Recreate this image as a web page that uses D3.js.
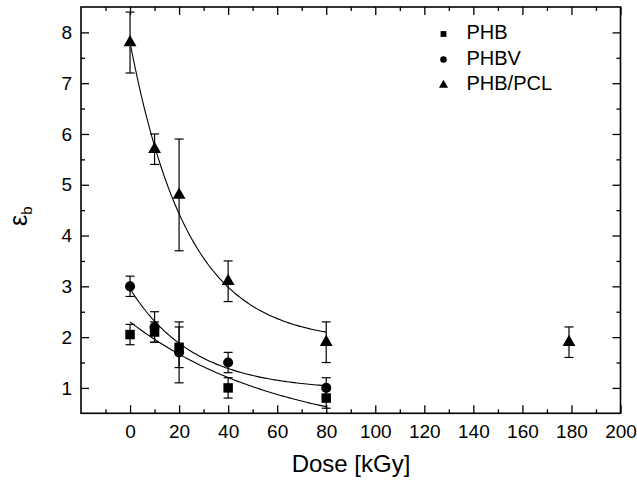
<!DOCTYPE html>
<html><head><meta charset="utf-8">
<script src="https://cdn.jsdelivr.net/npm/d3@7"></script>
<style>body{margin:0;background:#fff}svg{display:block}text{font-family:"Liberation Sans",Arial,sans-serif;fill:#000}</style>
</head><body><svg id="c" width="637" height="480"></svg>
<script>
const doses = [0, 10, 20, 40, 80];
const phb = [2.05, 2.1, 1.8, 1.0, 0.8];
const phbErr = [0.2, 0.2, 0.4, 0.2, 0.2];
const phbv = [3.0, 2.2, 1.7, 1.5, 1.0];
const phbvErr = [0.2, 0.3, 0.6, 0.2, 0.2];
const pcl = [7.8, 5.7, 4.8, 3.1, 1.9, 1.9];
const pclErr = [0.6, 0.3, 1.1, 0.4, 0.4, 0.3];
const pclDoses = [0, 10, 20, 40, 80, 179];
const seriesNames = ["PHB", "PHBV", "PHB/PCL"];
// exponential decay fits y = y0 + A*exp(-x/t), over 0..80 kGy
const fitPHB = [0.0, 2.3, 61.8];
const fitPHBV = [0.95, 2.0, 26.1];
const fitPCL = [1.9, 5.9, 23.6];
const xTicks = [0, 20, 40, 60, 80, 100, 120, 140, 160, 180, 200];
const yTicks = [1, 2, 3, 4, 5, 6, 7, 8];

const svg = d3.select("#c");
const L = 81, R = 620.5, T = 7, B = 413.3;
const x = d3.scaleLinear().domain([-20, 200]).range([L, R]);
const y = d3.scaleLinear().domain([0.5, 8.5]).range([B, T]);

const g = svg.append("g");
const minorX = d3.range(-10, 200, 10).filter(v => v % 20 !== 0);
const minorY = d3.range(1.5, 8.5, 1);
// bottom
g.append("g").attr("transform", `translate(0,${B})`)
  .call(d3.axisBottom(x).tickValues(xTicks).tickSizeInner(-8).tickSizeOuter(0).tickPadding(11).tickFormat(d3.format("d")))
  .call(a => a.selectAll("text").attr("font-size", 19).attr("dy", "0.71em"));
g.append("g").attr("transform", `translate(0,${B})`)
  .call(d3.axisBottom(x).tickValues(minorX).tickSizeInner(-4).tickSizeOuter(0).tickFormat(""));
// top
g.append("g").attr("transform", `translate(0,${T})`)
  .call(d3.axisTop(x).tickValues(xTicks).tickSizeInner(-8).tickSizeOuter(0).tickFormat(""));
g.append("g").attr("transform", `translate(0,${T})`)
  .call(d3.axisTop(x).tickValues(minorX).tickSizeInner(-4).tickSizeOuter(0).tickFormat(""));
// left
g.append("g").attr("transform", `translate(${L},0)`)
  .call(d3.axisLeft(y).tickValues(yTicks).tickSizeInner(-8).tickSizeOuter(0).tickPadding(9).tickFormat(d3.format("d")))
  .call(a => a.selectAll("text").attr("font-size", 19));
g.append("g").attr("transform", `translate(${L},0)`)
  .call(d3.axisLeft(y).tickValues(minorY).tickSizeInner(-4).tickSizeOuter(0).tickFormat(""));
// right
g.append("g").attr("transform", `translate(${R},0)`)
  .call(d3.axisRight(y).tickValues(yTicks).tickSizeInner(-8).tickSizeOuter(0).tickFormat(""));
g.append("g").attr("transform", `translate(${R},0)`)
  .call(d3.axisRight(y).tickValues(minorY).tickSizeInner(-4).tickSizeOuter(0).tickFormat(""));
g.selectAll(".domain").remove();
g.selectAll(".tick line").attr("stroke", "#000").attr("stroke-width", 1.3);
g.append("rect").attr("x", L).attr("y", T).attr("width", R - L).attr("height", B - T)
  .attr("fill", "none").attr("stroke", "#000").attr("stroke-width", 1.6);

// fit curves
function fitLine(p) {
  const xs = d3.range(0, 80.01, 1);
  const line = d3.line().x(d => x(d)).y(d => y(p[0] + p[1] * Math.exp(-d / p[2])));
  svg.append("path").attr("d", line(xs)).attr("fill", "none").attr("stroke", "#000").attr("stroke-width", 1.1);
}
[fitPHB, fitPHBV, fitPCL].forEach(fitLine);

// error bars & markers
function drawSeries(xs, ys, es, sym, size) {
  const eg = svg.append("g").attr("stroke", "#000").attr("stroke-width", 1.2);
  xs.forEach((d, i) => {
    const cx = x(d), y1 = y(ys[i] - es[i]), y2 = y(ys[i] + es[i]);
    eg.append("line").attr("x1", cx).attr("x2", cx).attr("y1", y1).attr("y2", y2);
    eg.append("line").attr("x1", cx - 4.5).attr("x2", cx + 4.5).attr("y1", y1).attr("y2", y1);
    eg.append("line").attr("x1", cx - 4.5).attr("x2", cx + 4.5).attr("y1", y2).attr("y2", y2);
  });
  svg.append("g").selectAll("path").data(xs).join("path")
    .attr("transform", (d, i) => `translate(${x(d)},${y(ys[i])})`)
    .attr("d", d3.symbol().type(sym).size(size)).attr("fill", "#000");
}
drawSeries(pclDoses, pcl, pclErr, d3.symbolTriangle, 72);
drawSeries(doses, phb, phbErr, d3.symbolSquare, 90);
drawSeries(doses, phbv, phbvErr, d3.symbolCircle, 80);

// legend
const syms = [d3.symbolSquare, d3.symbolCircle, d3.symbolTriangle];
const lg = svg.append("g");
seriesNames.forEach((n, i) => {
  const base = 39 + i * 25.5;
  lg.append("path").attr("transform", `translate(443.5,${base - 5})`)
    .attr("d", d3.symbol().type(syms[i]).size(i === 2 ? 36 : 34)).attr("fill", "#000");
  lg.append("text").attr("x", 466.5).attr("y", base).attr("font-size", 20).text(n);
});

// axis titles
svg.append("text").attr("x", 351).attr("y", 472).attr("text-anchor", "middle")
  .attr("font-size", 24).text("Dose [kGy]");
const yl = svg.append("text").attr("transform", `translate(27,${(T + B) / 2 + 6}) rotate(-90)`)
  .attr("text-anchor", "middle");
yl.append("tspan").attr("font-size", 25).text("ε");
yl.append("tspan").attr("font-size", 15).attr("dy", 5).text("b");
</script></body></html>
